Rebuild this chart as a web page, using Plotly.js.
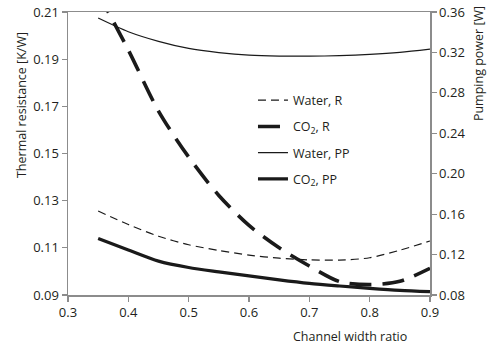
<!DOCTYPE html>
<html>
<head>
<meta charset="utf-8">
<script src="https://cdn.plot.ly/plotly-3.0.1.min.js"></script>
<style>html,body{margin:0;padding:0;background:#fff;}#chart{width:487px;height:344px;}</style>
</head>
<body>
<div id="chart"></div>
<script>
// Channel width ratio
const widthRatio = [0.35, 0.40, 0.45, 0.50, 0.55, 0.60, 0.65, 0.70, 0.75, 0.80, 0.85, 0.90];
// Thermal resistance [K/W] (left axis)
const waterR = [0.1256, 0.1199, 0.1149, 0.1113, 0.1089, 0.1069, 0.1056, 0.1049, 0.1048, 0.1058, 0.1090, 0.1129];
const co2R   = [0.2180, 0.1939, 0.1680, 0.1485, 0.1322, 0.1195, 0.1100, 0.1023, 0.0957, 0.0944, 0.0958, 0.1013];
// Pumping power [W] (right axis)
const waterPP = [0.3540, 0.3405, 0.3310, 0.3240, 0.3199, 0.3173, 0.3164, 0.3163, 0.3168, 0.3180, 0.3200, 0.3232];
const co2PP   = [0.1360, 0.1245, 0.1135, 0.1072, 0.1029, 0.0990, 0.0950, 0.0915, 0.0889, 0.0866, 0.0846, 0.0833];

const seriesNames = ['Water, R', 'CO<sub>2</sub>, R', 'Water, PP', 'CO<sub>2</sub>, PP'];
const leftTicks = [0.09, 0.11, 0.13, 0.15, 0.17, 0.19, 0.21];
const rightTicks = [0.08, 0.12, 0.16, 0.20, 0.24, 0.28, 0.32, 0.36];
const xTicks = [0.3, 0.4, 0.5, 0.6, 0.7, 0.8, 0.9];

const ink = '#1a1a1a';
const axisGray = '#8c8c8c';
const textCol = '#231f20';
const fontFam = '"Open Sans", "Noto Sans", sans-serif';

const traces = [
  {x: widthRatio, y: waterR, name: seriesNames[0], yaxis: 'y', legendgroup: 'a',
   mode: 'lines', line: {color: ink, width: 1.2, dash: '8px,5px', shape: 'spline', smoothing: 0.8}},
  {x: widthRatio, y: co2R, name: seriesNames[1], yaxis: 'y', legendgroup: 'b',
   mode: 'lines', line: {color: ink, width: 3.6, dash: '22px,11px', shape: 'spline', smoothing: 0.8}},
  {x: widthRatio, y: waterPP, name: seriesNames[2], yaxis: 'y2', legendgroup: 'c',
   mode: 'lines', line: {color: ink, width: 1.2, shape: 'spline', smoothing: 0.8}},
  {x: widthRatio, y: co2PP, name: seriesNames[3], yaxis: 'y2', legendgroup: 'd',
   mode: 'lines', line: {color: ink, width: 3.2, shape: 'spline', smoothing: 0.8}}
];

const layout = {
  width: 487, height: 344,
  margin: {l: 68, r: 57, t: 12, b: 49, pad: 0},
  paper_bgcolor: '#fff', plot_bgcolor: '#fff',
  font: {family: fontFam, size: 13, color: textCol},
  showlegend: true,
  legend: {x: 0.511, xanchor: 'left', y: 0.74, yanchor: 'top', bgcolor: 'rgba(0,0,0,0)',
           traceorder: 'grouped', tracegroupgap: 7, font: {family: fontFam, size: 12.5, color: textCol}},
  xaxis: {range: [0.3, 0.9], tickvals: xTicks, ticktext: xTicks.map(v => v.toFixed(1)),
          showgrid: false, zeroline: false, showline: true, linecolor: axisGray, linewidth: 1.5,
          mirror: true, ticks: 'outside', ticklen: 5, tickwidth: 1.2, tickcolor: axisGray,
          tickfont: {size: 13, color: textCol}},
  yaxis: {range: [0.09, 0.21], tickvals: leftTicks, ticktext: leftTicks.map(v => v.toFixed(2)),
          showgrid: false, zeroline: false, showline: true, linecolor: axisGray, linewidth: 1.5,
          ticks: 'outside', ticklen: 5, tickwidth: 1.2, tickcolor: axisGray,
          tickfont: {size: 13, color: textCol}},
  yaxis2: {range: [0.08, 0.36], tickvals: rightTicks, ticktext: rightTicks.map(v => v.toFixed(2)),
           overlaying: 'y', side: 'right',
           showgrid: false, zeroline: false, showline: true, linecolor: axisGray, linewidth: 1.5,
           ticks: 'outside', ticklen: 5, tickwidth: 1.2, tickcolor: axisGray,
           tickfont: {size: 13, color: textCol}},
  annotations: [
    {text: 'Thermal resistance [K/W]', xref: 'paper', yref: 'paper', x: -0.13, y: 0.671,
     textangle: -90, showarrow: false, xanchor: 'center', yanchor: 'middle',
     font: {family: fontFam, size: 12.5, color: textCol}},
    {text: 'Pumping power [W]', xref: 'paper', yref: 'paper', x: 1.1326, y: 0.816,
     textangle: -90, showarrow: false, xanchor: 'center', yanchor: 'middle',
     font: {family: fontFam, size: 12.5, color: textCol}},
    {text: 'Channel width ratio', xref: 'paper', yref: 'paper', x: 0.779, y: -0.148,
     showarrow: false, xanchor: 'center', yanchor: 'middle',
     font: {family: fontFam, size: 12.5, color: textCol}}
  ]
};

Plotly.newPlot('chart', traces, layout, {staticPlot: true, displayModeBar: false});
</script>
</body>
</html>
